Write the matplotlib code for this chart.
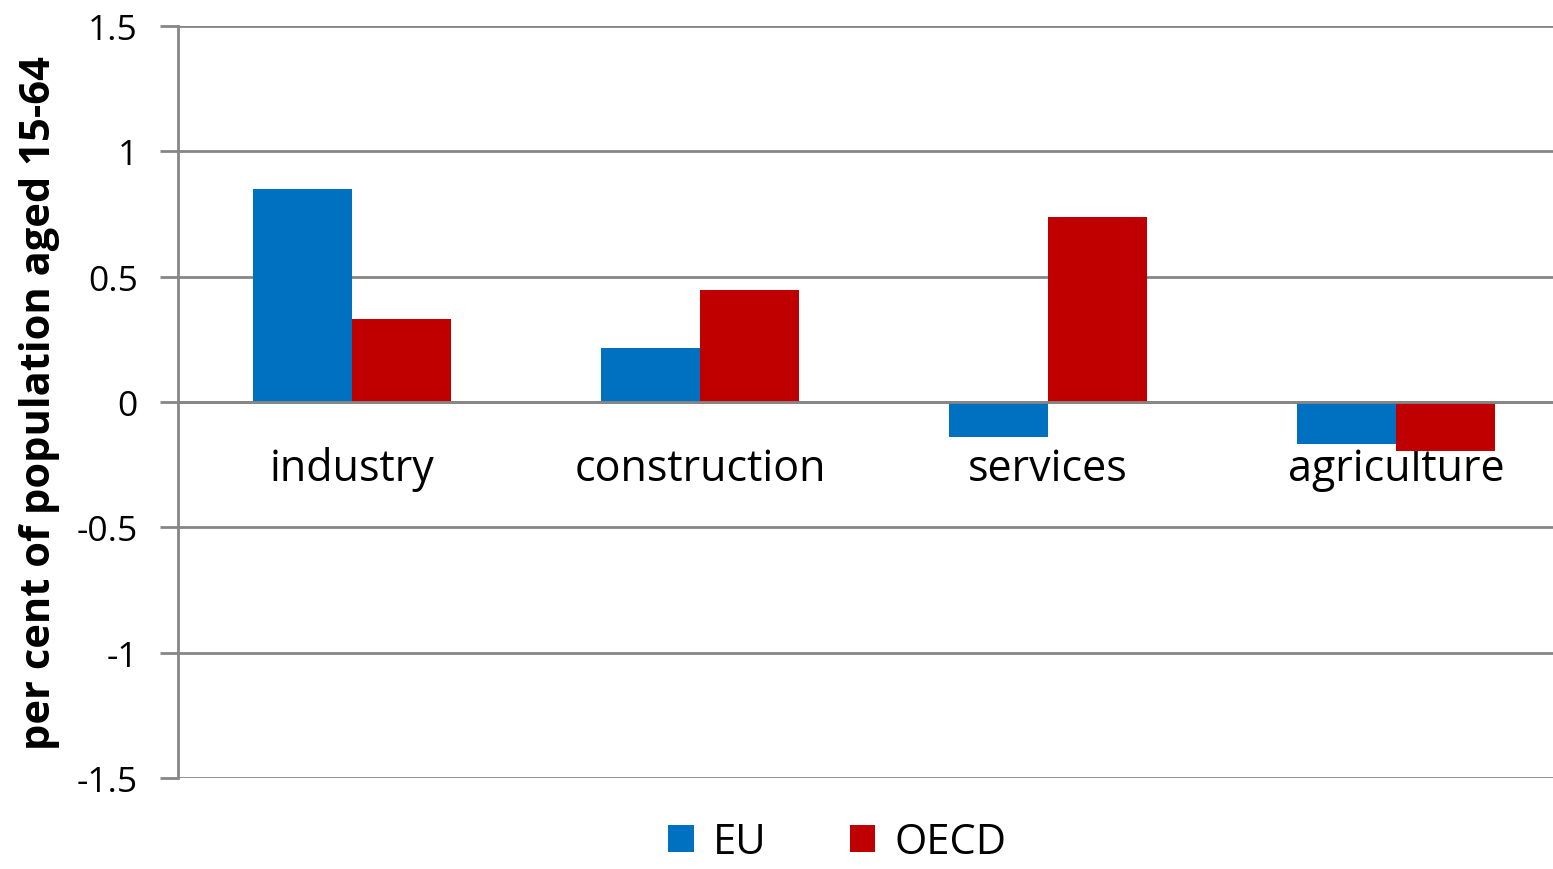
import matplotlib.pyplot as plt
import numpy as np

# Datos
categorias = ["industry", "construction", "services", "agriculture"]
eu = [0.85, 0.215, -0.14, -0.167]
oecd = [0.33, 0.446, 0.737, -0.195]
series = ["EU", "OECD"]
colores = ["#0070C0", "#C00000"]

plt.rcParams["font.family"] = ["Open Sans", "DejaVu Sans"]

fig = plt.figure(figsize=(15.53, 8.70), dpi=100)
# el area del grafico sobresale un poco por la derecha, como en el original
ax = fig.add_axes([0.1146, 0.1046, 0.8963, 0.8644])

gris = "#868686"
# primero la posicion del eje x (reinicia los ticks)
for lado in ["top", "right"]:
    ax.spines[lado].set_visible(False)
ax.spines["bottom"].set_position(("data", 0))
ax.spines["bottom"].set_color(gris)
ax.spines["bottom"].set_linewidth(2)
ax.spines["bottom"].set_zorder(4)
ax.spines["left"].set_color(gris)
ax.spines["left"].set_linewidth(2)

x = np.arange(len(categorias))
ancho = 0.285
ax.bar(x - ancho / 2, eu, ancho, color=colores[0], label=series[0], zorder=3)
ax.bar(x + ancho / 2, oecd, ancho, color=colores[1], label=series[1], zorder=3)

ax.set_xlim(-0.5, len(categorias) - 0.5)
ax.set_ylim(-1.5, 1.5)
ax.set_yticks([-1.5, -1, -0.5, 0, 0.5, 1, 1.5])
ax.set_yticklabels(["-1.5", "-1", "-0.5", "0", "0.5", "1", "1.5"], fontsize=25.5)
ax.yaxis.grid(True, color=gris, linewidth=2, zorder=0)
ax.tick_params(axis="y", length=13, width=2, color=gris, pad=16)

ax.set_xticks(x)
ax.set_xticklabels(categorias, fontsize=31)
ax.tick_params(axis="x", length=0, pad=32)

ax.set_ylabel("per cent of population aged 15-64", fontsize=30, fontweight="bold", labelpad=12)

fig.legend(loc="lower center", bbox_to_anchor=(0.539, -0.036), ncol=2, frameon=False,
           fontsize=30, handlelength=0.62, handleheight=0.62, columnspacing=2.0, handletextpad=0.45)

plt.savefig("out.png", dpi=100)
